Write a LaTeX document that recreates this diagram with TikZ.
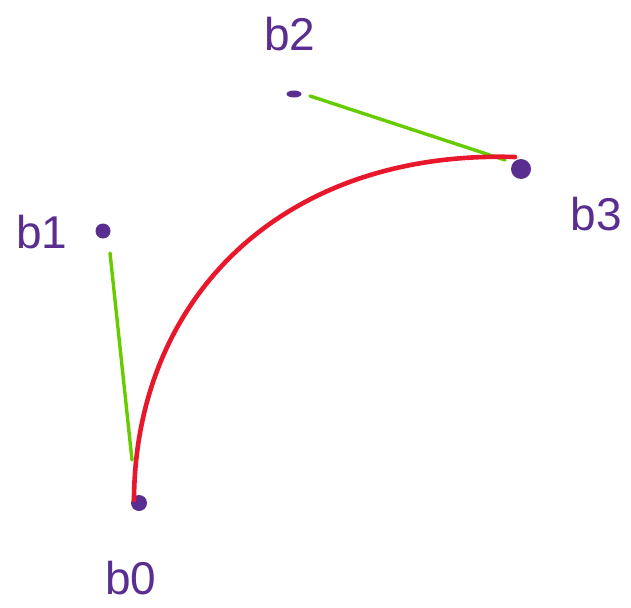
\documentclass[tikz,border=0pt]{standalone}
\usepackage{fontspec}
\setmainfont{Liberation Sans}
\usetikzlibrary{positioning, calc, shapes.geometric}
\definecolor{pinkpurple}{RGB}{90,45,145}
\definecolor{pengreen}{RGB}{102,204,0}
\definecolor{penred}{RGB}{232,23,43}

\begin{document}
\begin{tikzpicture}[x=1pt, y=-1pt,
    dot/.style={circle, fill=pinkpurple, inner sep=0pt},
    lbl/.style={text=pinkpurple, font=\fontsize{46}{46}\selectfont}]
    \useasboundingbox (0, 0) rectangle (631, 607);

    % control points
    \node[dot, minimum size=16pt] (p0) at (139, 503) {};
    \node[dot, minimum size=15pt] (p1) at (103, 231) {};
    \node[dot, ellipse, minimum height=7pt, minimum width=15pt] (p2) at (294, 94) {};
    \node[dot, minimum size=20pt] (p3) at (521, 169) {};

    % labels
    \node[lbl] (l0) at (131, 578) {b0};
    \node[lbl] (l1) at (42, 232) {b1};
    \node[lbl] (l2) at (290, 34) {b2};
    \node[lbl] (l3) at (596, 214) {b3};

    % tangents
    \coordinate (g1a) at (110, 253);
    \coordinate (g1b) at (132, 460);
    \coordinate (g2a) at (310, 96);
    \coordinate (g2b) at (505, 160);
    \draw[pengreen, line width=3.4pt, line cap=round] (g1a) -- (g1b);
    \draw[pengreen, line width=3.4pt, line cap=round] (g2a) -- (g2b);

    % curve
    \coordinate (c0) at (134, 500);
    \coordinate (c3) at (515, 157);
    \draw[penred, line width=4.6pt, line cap=round]
        (c0) .. controls (135, 300) and (280, 150) .. (c3);
\end{tikzpicture}
\end{document}
